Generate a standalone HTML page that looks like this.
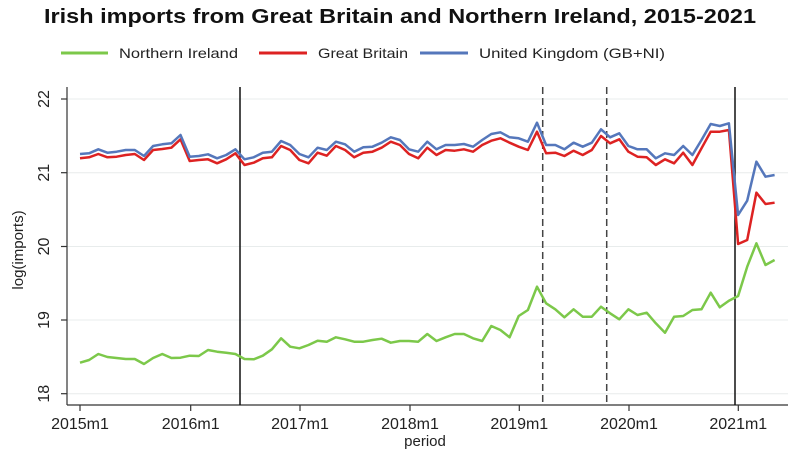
<!DOCTYPE html>
<html><head><meta charset="utf-8"><style>
html,body{margin:0;padding:0;background:#fff;}
svg{display:block;font-family:"Liberation Sans",sans-serif;}
</style></head><body>
<svg width="800" height="450" viewBox="0 0 800 450" xmlns="http://www.w3.org/2000/svg">
<text x="400" y="23" text-anchor="middle" font-size="20" font-weight="bold" textLength="712" lengthAdjust="spacingAndGlyphs" fill="#111">Irish imports from Great Britain and Northern Ireland, 2015-2021</text>
<line x1="61" y1="53" x2="108" y2="53" stroke="#7cc84a" stroke-width="3"/>
<text x="119" y="58" font-size="14" textLength="119" lengthAdjust="spacingAndGlyphs" fill="#222">Northern Ireland</text>
<line x1="259" y1="53" x2="307" y2="53" stroke="#dd2222" stroke-width="3"/>
<text x="318" y="58" font-size="14" textLength="90" lengthAdjust="spacingAndGlyphs" fill="#222">Great Britain</text>
<line x1="420" y1="53" x2="468" y2="53" stroke="#5577bb" stroke-width="3"/>
<text x="479" y="58" font-size="14" textLength="186" lengthAdjust="spacingAndGlyphs" fill="#222">United Kingdom (GB+NI)</text>
<g stroke="#e8ecec" stroke-width="1">
<line x1="67" y1="99" x2="788" y2="99"/><line x1="67" y1="172.7" x2="788" y2="172.7"/><line x1="67" y1="246.5" x2="788" y2="246.5"/><line x1="67" y1="320" x2="788" y2="320"/><line x1="67" y1="393.7" x2="788" y2="393.7"/>
</g>
<g stroke="#333" stroke-width="1.2">
<line x1="67" y1="87" x2="67" y2="405"/><line x1="67" y1="405" x2="788" y2="405"/>
<line x1="61" y1="99" x2="67" y2="99"/><line x1="61" y1="172.7" x2="67" y2="172.7"/><line x1="61" y1="246.5" x2="67" y2="246.5"/><line x1="61" y1="320" x2="67" y2="320"/><line x1="61" y1="393.7" x2="67" y2="393.7"/>
<line x1="80" y1="405" x2="80" y2="411"/><line x1="190.7" y1="405" x2="190.7" y2="411"/><line x1="300" y1="405" x2="300" y2="411"/><line x1="410" y1="405" x2="410" y2="411"/><line x1="519.3" y1="405" x2="519.3" y2="411"/><line x1="629" y1="405" x2="629" y2="411"/><line x1="738.3" y1="405" x2="738.3" y2="411"/>
</g>
<g font-size="16" fill="#222">
<text transform="translate(49,99) rotate(-90)" text-anchor="middle">22</text>
<text transform="translate(49,172.7) rotate(-90)" text-anchor="middle">21</text>
<text transform="translate(49,246.5) rotate(-90)" text-anchor="middle">20</text>
<text transform="translate(49,320) rotate(-90)" text-anchor="middle">19</text>
<text transform="translate(49,393.7) rotate(-90)" text-anchor="middle">18</text>
<text transform="translate(23,250) rotate(-90)" text-anchor="middle" font-size="15">log(imports)</text>
<g text-anchor="middle">
<text x="80" y="429">2015m1</text><text x="190.7" y="429">2016m1</text><text x="300" y="429">2017m1</text><text x="410" y="429">2018m1</text><text x="519.3" y="429">2019m1</text><text x="629" y="429">2020m1</text><text x="738.3" y="429">2021m1</text>
<text x="425" y="446" font-size="15">period</text>
</g>
</g>
<g stroke="#111" stroke-width="1.5">
<line x1="240" y1="87" x2="240" y2="405"/>
<line x1="735" y1="87" x2="735" y2="405"/>
<line x1="542.7" y1="87" x2="542.7" y2="405" stroke-dasharray="7,4" stroke="#444"/>
<line x1="606.7" y1="87" x2="606.7" y2="405" stroke-dasharray="7,4" stroke="#444"/>
</g>
<g id="series" fill="none" stroke-width="2.5" stroke-linejoin="round"></g>
</svg>
<script>
var g=[362.7,360,354,357,358,359,359,364,358,354,358,357.7,355.7,356,350,351.7,352.7,354,359,359.3,355.7,349.3,338.3,346.7,348.3,345,340.7,341.7,337.3,339.3,341.7,341.7,340,338.7,342.7,341,341,341.7,334,341,337.3,334,334,338.3,341,326,330,337.3,316,310,286.7,303.3,309.3,317.3,309.3,316.7,316.7,306.7,313.3,319.3,309.3,315,312.7,323.3,332.7,316.7,316,310,309.3,292.7,307.3,300.7,296,266.7,243.3,265,260];
var r=[158.3,157.3,154,157.3,156.7,155,154,160,150,149,147.7,139.3,161,160,159.3,163.3,159.3,153.3,165,162.7,158.3,157.3,146,150,160,163.3,152.7,155.7,146,150,157.3,152.7,151.7,147.7,141.7,145,154,158.3,147.7,155,150,150.7,149.3,151.7,145,140.7,138.3,142.7,146.7,150,131.7,153.3,152.7,156,150.7,155,150,136,143.3,139.3,151.7,156.7,157.3,165,159.3,163.3,152.7,165,148.3,131.7,131.7,130,244,240,192.7,204,202.7];
var b=[154,153.3,149.3,152.7,151.7,150,150,156,146,144.3,143.3,135,156.7,156,154.3,158.3,155,149.3,159.3,157.3,152.7,151.7,141,145,154,157.3,147.7,150,141.7,144.3,151.7,147.3,146.7,142.7,137.3,140,149.3,151.7,141.7,149.3,145,145,144,146.7,140,134,132.3,137.3,138.3,141.7,122.7,145,145,149.3,142.7,146.7,142.7,129.3,137.3,133.3,146,149.3,149.3,158.3,153.3,155,146,155,140,124,126,123.3,215,200.7,161.7,176.7,175];
function pl(a,c){var p=a.map(function(y,i){return (80+9.14*i).toFixed(1)+','+y}).join(' ');
var e=document.createElementNS('http://www.w3.org/2000/svg','polyline');e.setAttribute('points',p);e.setAttribute('stroke',c);document.getElementById('series').appendChild(e);}
pl(g,'#7cc84a');pl(r,'#dd2222');pl(b,'#5577bb');
</script>
</body></html>
